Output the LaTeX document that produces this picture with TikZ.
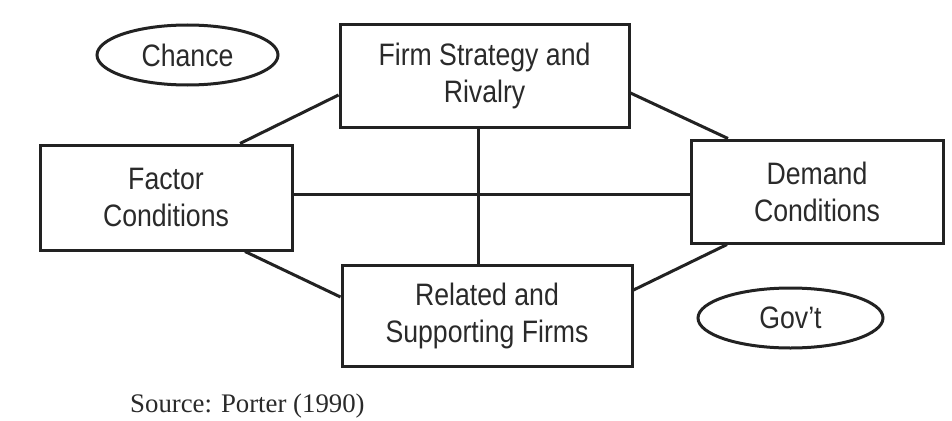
\documentclass[tikz,border=0pt]{standalone}
\usepackage{fontspec}
\setmainfont{Liberation Serif}
\newfontfamily\boxfont{Liberation Sans}[FakeStretch=0.86]
\usetikzlibrary{shapes.geometric}
\definecolor{ink}{HTML}{222222}
\definecolor{txt}{HTML}{2A2A2A}
\tikzset{
  box/.style={draw=ink, line width=3pt, rectangle, inner sep=0pt, align=center,
    text=txt, font=\boxfont\fontsize{31}{37}\selectfont},
  oval/.style={draw=ink, line width=3pt, ellipse, inner sep=0pt,
    text=txt, font=\boxfont\fontsize{31}{37}\selectfont},
  link/.style={draw=ink, line width=3pt}
}
\begin{document}
\begin{tikzpicture}[x=1pt,y=-1pt]
\useasboundingbox[fill=white] (0,0) rectangle (952,420);
\node[box, minimum width=289pt, minimum height=102pt] (top) at (484.5,76) {Firm Strategy and\\Rivalry};
\node[box, minimum width=252pt, minimum height=105pt] (factor) at (166,197.5) {Factor\\Conditions};
\node[box, minimum width=252pt, minimum height=103pt] (demand) at (817,191.5) {Demand\\Conditions};
\node[box, minimum width=290pt, minimum height=101pt] (related) at (487,315.5) {Related and\\Supporting Firms};
\node[oval, minimum width=181pt, minimum height=60pt] (chance) at (187.5,55) {Chance};
\node[oval, minimum width=185pt, minimum height=60pt] (gov) at (790.5,318) {Gov’t};
\node[anchor=base west, text=txt, font=\fontsize{26.8}{30}\selectfont, inner sep=0pt] (src) at (130,412) {Source: Porter (1990)};
\coordinate (vx) at (478,0);
\coordinate (hy) at (0,194);
\coordinate (a1) at (240,95);
\coordinate (a2) at (728,93);
\coordinate (a3) at (245,297);
\coordinate (a4) at (727,290);
\draw[link] (top.south -| vx) -- (related.north -| vx);
\draw[link] (factor.east |- hy) -- (demand.west |- hy);
\draw[link] (factor.north -| a1) -- (top.west |- a1);
\draw[link] (top.east |- a2) -- (demand.north -| a2);
\draw[link] (factor.south -| a3) -- (related.west |- a3);
\draw[link] (related.east |- a4) -- (demand.south -| a4);
\end{tikzpicture}
\end{document}
